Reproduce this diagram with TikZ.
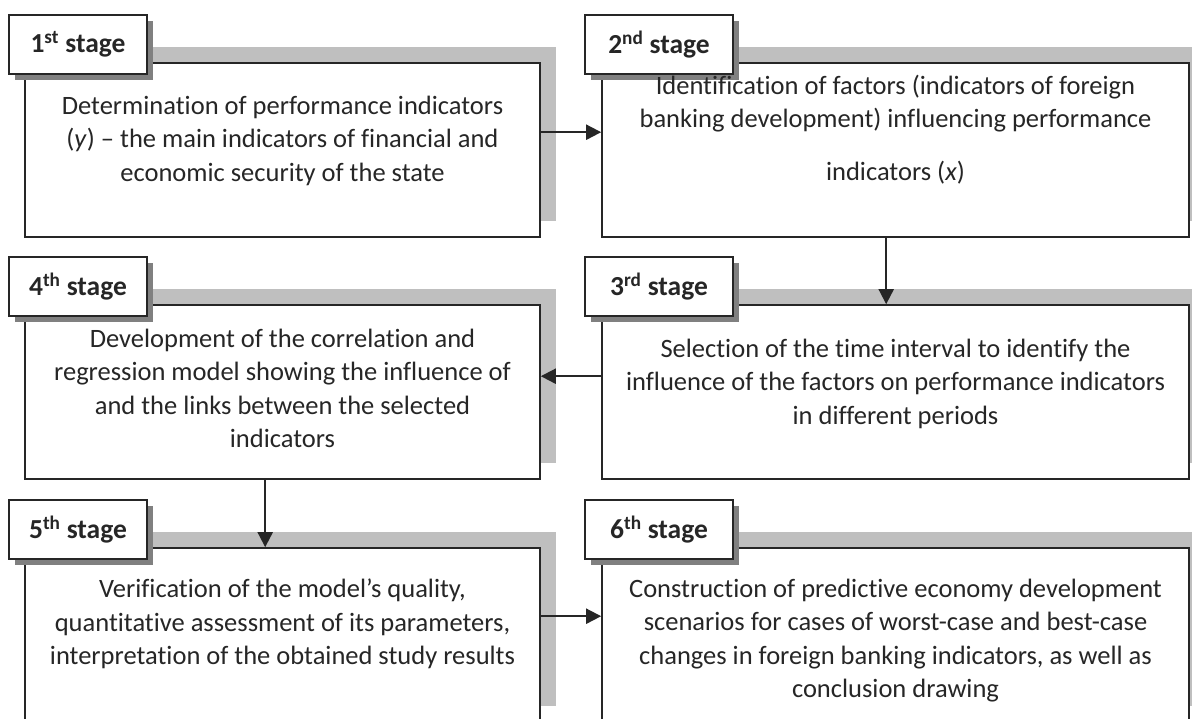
\documentclass[tikz,border=0pt]{standalone}
\usepackage{fontspec}
\setmainfont[Ligatures=CommonOff]{Carlito}
\usepackage{tikz}
\usetikzlibrary{calc,shadows,arrows.meta}
\usepackage{xcolor}
\definecolor{barcol}{HTML}{BFBFBF}
\definecolor{tagshade}{HTML}{808080}
\definecolor{linecol}{HTML}{262626}

\begin{document}
\begin{tikzpicture}[
  x=1pt,y=1pt,
  stagebox/.style={draw=linecol,line width=1.6pt,fill=white,inner sep=0pt,
    minimum width=#1,minimum height=174pt,
    general shadow={fill=barcol,shadow xshift=16pt,shadow yshift=16pt}},
  stagetag/.style={draw=linecol,line width=1.6pt,fill=white,inner sep=0pt,
    minimum width=#1,minimum height=59pt,text=linecol,
    font=\fontsize{27.5}{33}\selectfont\bfseries,
    general shadow={fill=tagshade,shadow xshift=6pt,shadow yshift=-6pt}},
  boxtext/.style={anchor=north,align=center,inner sep=0pt,text=linecol,
    font=\fontsize{26.5}{33.5}\selectfont,execute at begin node=\strut},
  link/.style={draw=linecol,line width=2pt,-{Triangle[length=15pt,width=15pt]}}
  ]
\path[use as bounding box,clip] (0,0) rectangle (1192,-718);
\def\xl{282.5}
\def\xr{895.5}
\def\wl{515pt}
\def\wr{587pt}
% boxes
\node[stagebox=\wl] (b1) at (\xl,-150) {};
\node[stagebox=\wr] (b2) at (\xr,-150) {};
\node[stagebox=\wr] (b3) at (\xr,-392) {};
\node[stagebox=\wl] (b4) at (\xl,-392) {};
\node[stagebox=\wl] (b5) at (\xl,-635) {};
\node[stagebox=\wr] (b6) at (\xr,-635) {};
% stage tags
\node[stagetag=138pt,anchor=north west] (t1) at ($(b1.north west)+(-16,48)$) {1\textsuperscript{st} stage};
\node[stagetag=148pt,anchor=north west] (t2) at ($(b2.north west)+(-17,48)$) {2\textsuperscript{nd} stage};
\node[stagetag=148pt,anchor=north west] (t3) at ($(b3.north west)+(-17,48)$) {3\textsuperscript{rd} stage};
\node[stagetag=138pt,anchor=north west] (t4) at ($(b4.north west)+(-16,48)$) {4\textsuperscript{th} stage};
\node[stagetag=138pt,anchor=north west] (t5) at ($(b5.north west)+(-16,48)$) {5\textsuperscript{th} stage};
\node[stagetag=148pt,anchor=north west] (t6) at ($(b6.north west)+(-17,48)$) {6\textsuperscript{th} stage};
% texts
\node[boxtext] (d1) at ($(b1.north)+(0,-33.5)$) {Determination of performance indicators\\
  (\textit{y}) – the main indicators of financial and\\ economic security of the state};
\node[boxtext] (d2) at ($(b2.north)+(0,-12.5)$) {Identification of factors (indicators of foreign\\
  banking development) influencing performance\\[19.5pt] indicators (\textit{x})};
\node[boxtext] (d3) at ($(b3.north)+(0,-34.5)$) {Selection of the time interval to identify the\\
  influence of the factors on performance indicators\\ in different periods};
\node[boxtext] (d4) at ($(b4.north)+(0,-24.5)$) {Development of the correlation and\\
  regression model showing the influence of\\ and the links between the selected\\ indicators};
\node[boxtext] (d5) at ($(b5.north)+(0,-31.5)$) {Verification of the model’s quality,\\
  quantitative assessment of its parameters,\\ interpretation of the obtained study results};
\node[boxtext] (d6) at ($(b6.north)+(0,-31.5)$) {Construction of predictive economy development\\
  scenarios for cases of worst-case and best-case\\ changes in foreign banking indicators, as well as\\ conclusion drawing};
% links
\draw[link] ($(b1.north east)+(0,-70)$) -- ($(b2.north west)+(0,-70)$);
\draw[link] ($(b2.south west)+(285,0)$) -- ($(b3.north west)+(285,0)$);
\draw[link] ($(b3.north west)+(0,-72)$) -- ($(b4.north east)+(0,-72)$);
\draw[link] ($(b4.south west)+(241,0)$) -- ($(b5.north west)+(241,0)$);
\draw[link] ($(b5.north east)+(0,-69)$) -- ($(b6.north west)+(0,-69)$);
\end{tikzpicture}
\end{document}
